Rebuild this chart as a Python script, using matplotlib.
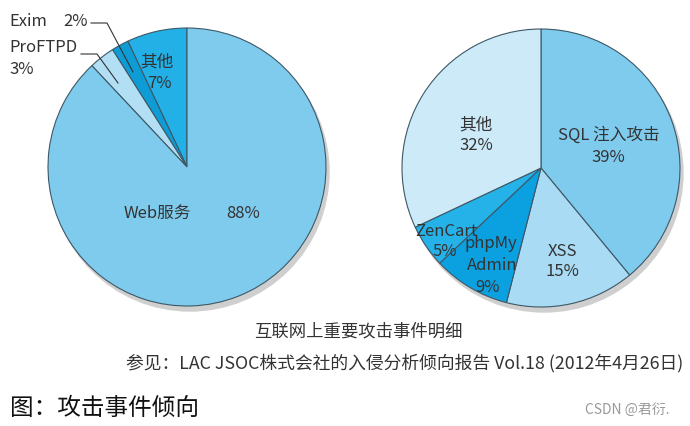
import matplotlib
matplotlib.use('Agg')
import matplotlib.pyplot as plt
from matplotlib.patches import Circle

plt.rcParams['font.family'] = ['Noto Sans CJK SC', 'DejaVu Sans']

# left pie: server software
left_labels = ['其他', 'Exim', 'ProFTPD', 'Web服务']
left_values = [7, 2, 3, 88]
left_colors = ['#22b0e6', '#0e9cd6', '#b3dff4', '#7fcbee']

# right pie: web attacks
right_labels = ['SQL 注入攻击', 'XSS', 'phpMyAdmin', 'ZenCart', '其他']
right_values = [39, 15, 9, 5, 32]
right_colors = ['#7fcbee', '#a9dbf4', '#0ba0e0', '#25b2e8', '#cdeaf8']

W, H = 690, 426
fig = plt.figure(figsize=(W / 100, H / 100), dpi=100)
ax = fig.add_axes([0, 0, 1, 1])

def Y(y):
    # pixel row from the top -> data y
    return H - y

txt = '#333333'
edge = dict(edgecolor='#3d5866', linewidth=0.8)
R = 139

# shadows
for cx, cy in [(187, 167), (541, 168)]:
    ax.add_patch(Circle((cx + 3, Y(cy) - 5), R, color='#cfcfcf', zorder=0))

ax.pie(left_values, colors=left_colors, startangle=90, counterclock=True,
       center=(187, Y(167)), radius=R, frame=True, wedgeprops=edge)
ax.pie(right_values, colors=right_colors, startangle=90, counterclock=False,
       center=(541, Y(168)), radius=R, frame=True, wedgeprops=edge)
ax.set_xlim(0, W)
ax.set_ylim(0, H)
ax.axis('off')

fs = 12
def lab(x, y, s, ha='center', size=fs, color=txt):
    ax.text(x, Y(y), s, ha=ha, va='center', fontsize=size, color=color, zorder=5)

# left labels
lab(157, 213, 'Web服务')
lab(243, 213, '88%')
lab(157, 62, '其他')
lab(159, 83, '7%')
lab(9, 21, 'Exim', ha='left')
lab(63, 21, '2%', ha='left')
lab(9, 47, 'ProFTPD', ha='left')
lab(9, 69, '3%', ha='left')
ax.plot([91, 107, 133], [Y(23), Y(23), Y(72)], color='#333333', lw=0.8, zorder=5)
ax.plot([81, 97, 118], [Y(54), Y(54), Y(83)], color='#333333', lw=0.8, zorder=5)

# right labels
lab(609, 135, 'SQL 注入攻击')
lab(608, 157, '39%')
lab(476, 125, '其他')
lab(476, 146, '32%')
lab(562, 251, 'XSS')
lab(562, 272, '15%')
lab(446, 232, 'ZenCart')
lab(445, 252, '5%')
lab(491, 243, 'phpMy')
lab(492, 265, 'Admin')
lab(488, 287, '9%')

# captions
lab(358, 331, '互联网上重要攻击事件明细', size=12.5)
lab(126, 363, '参见：LAC JSOC株式会社的入侵分析倾向报告 Vol.18 (2012年4月26日)',
    ha='left', size=12.8)
lab(10, 408, '图：攻击事件倾向', ha='left', size=17, color='#111111')
lab(585, 410, 'CSDN @君衍.', ha='left', size=10, color='#999999')

fig.savefig('out.png', dpi=100)
